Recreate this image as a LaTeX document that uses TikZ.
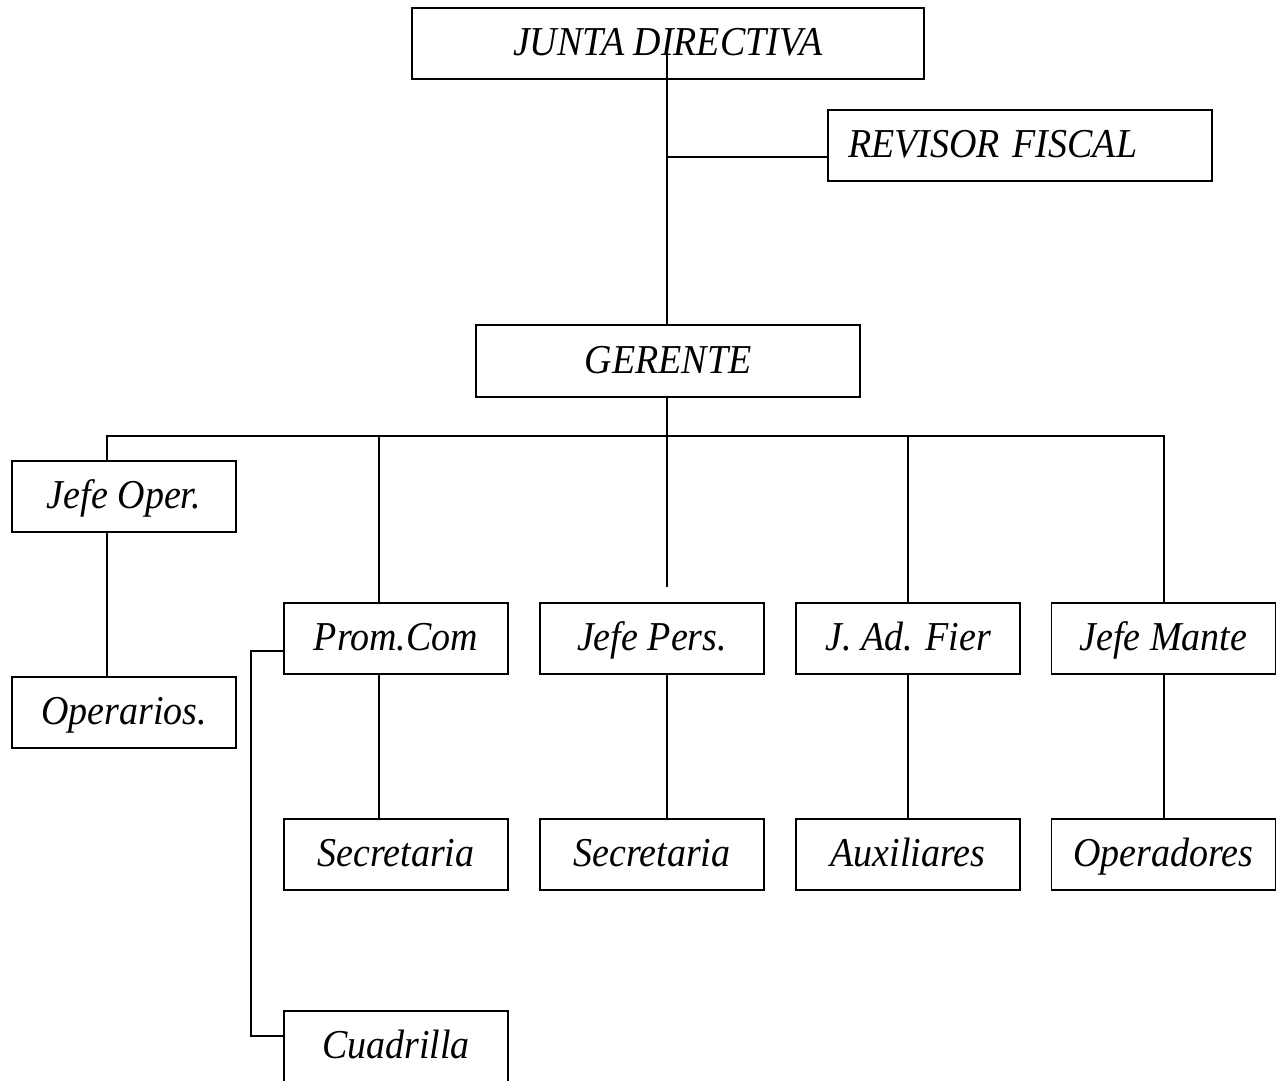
\documentclass[tikz,border=0pt]{standalone}
\usepackage{fontspec}
\usepackage{graphicx}
\setmainfont{Liberation Serif}
\newcommand\bxt[1]{\scalebox{1}[1.08]{#1}}
\begin{document}
\begin{tikzpicture}[x=1pt,y=-1pt,
  box/.style={draw,line width=1.6pt,inner sep=0pt,minimum width=224pt,minimum height=71pt,
    text height=32pt,text depth=8pt,
    font=\fontsize{38}{44}\selectfont\itshape},
  ln/.style={line width=1.6pt}]
\useasboundingbox (0,0) rectangle (1276,1080);
\node[box,minimum width=512pt] (jd) at (668,43.5) {\bxt{JUNTA DIRECTIVA}};
\node[box,minimum width=384pt,text width=344pt,inner xsep=20pt,align=left] (rf) at (1020,145.5) {\bxt{REVISOR FISCAL}};
\node[box,minimum width=384pt,minimum height=72pt] (ge) at (668,361) {\bxt{GERENTE}};
\node[box] (jo) at (124,496.5) {\bxt{Jefe Oper.}};
\node[box] (op) at (124,712.5) {\bxt{Operarios.}};
\node[box] (pc) at (396,638.5) {\bxt{Prom.Com}};
\node[box] (jp) at (652,638.5) {\bxt{Jefe Pers.}};
\node[box] (ja) at (908,638.5) {\bxt{J. Ad. Fier}};
\node[box] (jm) at (1163.5,638.5) {\bxt{Jefe Mante}};
\node[box] (s1) at (396,854.5) {\bxt{Secretaria}};
\node[box] (s2) at (652,854.5) {\bxt{Secretaria}};
\node[box] (au) at (908,854.5) {\bxt{Auxiliares}};
\node[box] (od) at (1163.5,854.5) {\bxt{Operadores}};
\node[box] (cu) at (396,1046.5) {\bxt{Cuadrilla}};
\coordinate (jt) at (667,52);
\coordinate (jr) at (667,157);
\coordinate (b1) at (107,436);
\coordinate (b2) at (379,436);
\coordinate (b3) at (667,436);
\coordinate (b4) at (908,436);
\coordinate (b5) at (1164,436);
\draw[ln] (jt) -- (jt |- ge.north);
\draw[ln] (jr) -- (rf.west |- jr);
\draw[ln] (b3 |- ge.south) -- (b3);
\draw[ln] (b1 |- jo.north) -- (b1) -- (b5) -- (b5 |- jm.north);
\draw[ln] (b2) -- (b2 |- pc.north);
\draw[ln] (b3) -- ([yshift=15pt]b3 |- jp.north);
\draw[ln] (b4) -- (b4 |- ja.north);
\draw[ln] (b1 |- jo.south) -- (b1 |- op.north);
\draw[ln] (b2 |- pc.south) -- (b2 |- s1.north);
\draw[ln] (b3 |- jp.south) -- (b3 |- s2.north);
\draw[ln] (b4 |- ja.south) -- (b4 |- au.north);
\draw[ln] (b5 |- jm.south) -- (b5 |- od.north);
\draw[ln] ([yshift=-12.5pt]pc.west) -- ++(-32,0) |- ([yshift=10.5pt]cu.west);
\end{tikzpicture}
\end{document}
